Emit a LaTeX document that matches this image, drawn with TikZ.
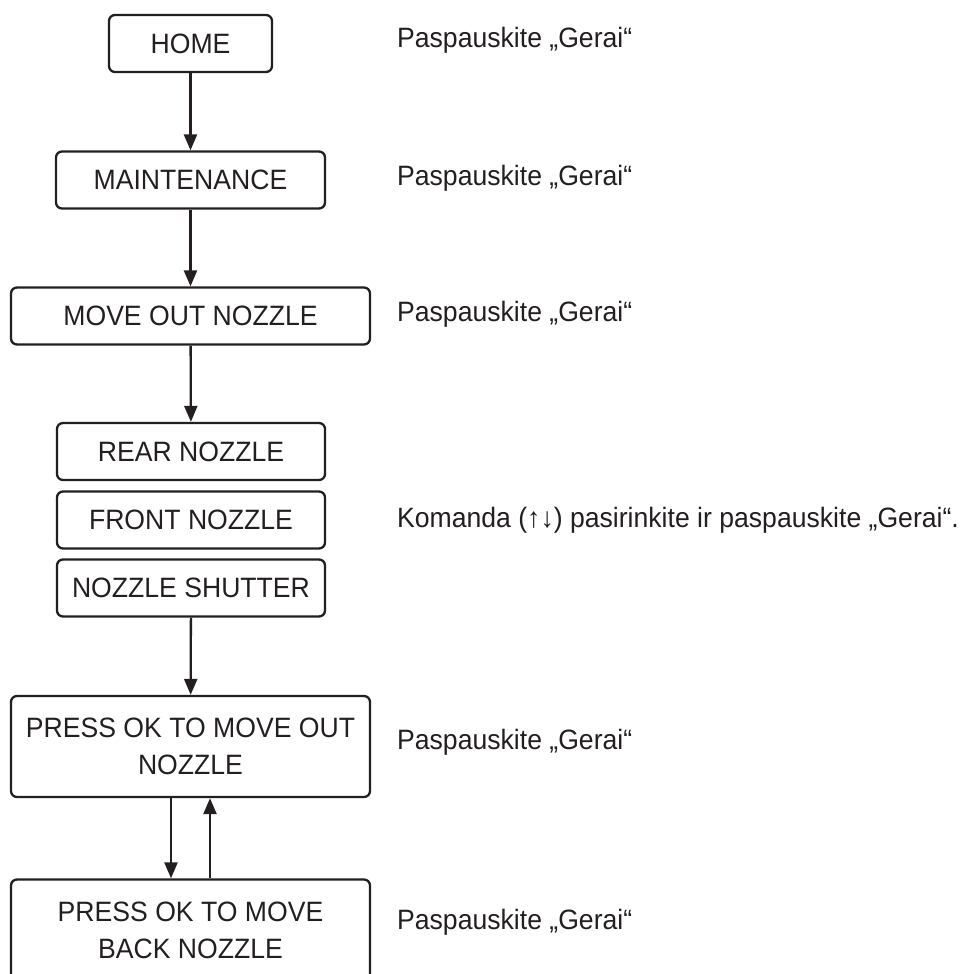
\documentclass[tikz,border=0pt]{standalone}
\usepackage{fontspec}
\setmainfont{Liberation Sans}[FakeStretch=0.95]
\usetikzlibrary{arrows.meta}
\definecolor{ink}{HTML}{231F20}
\begin{document}
\begin{tikzpicture}
  [x=1pt,y=1pt,ink,line width=2.3pt,
   every node/.style={font=\fontsize{28}{37}\selectfont,text=ink},
   menubox/.style={draw,rounded corners=6pt,align=center,inner sep=0pt,minimum height=57pt},
   hint/.style={anchor=west,inner sep=0pt},
   flow/.style={-{Triangle[length=16pt,width=13pt]}}]
  \useasboundingbox (0,0) rectangle (960,-974);
  \clip (0,0) rectangle (960,-974);

  \node[menubox,minimum width=163pt] (home)    at (190.5,-43.5) {HOME};
  \node[menubox,minimum width=269pt] (maint)   at (190.5,-180)  {MAINTENANCE};
  \node[menubox,minimum width=359pt] (moveout) at (190.5,-316)  {MOVE OUT NOZZLE};
  \node[menubox,minimum width=268pt] (rear)    at (191,-451.5)  {REAR NOZZLE};
  \node[menubox,minimum width=268pt] (front)   at (191,-520)    {FRONT NOZZLE};
  \node[menubox,minimum width=268pt] (shutter) at (191,-588)    {NOZZLE SHUTTER};
  \node[menubox,minimum width=359pt,minimum height=101pt] (pressout)  at (190.5,-746.5) {PRESS OK TO MOVE OUT\\NOZZLE};
  \node[menubox,minimum width=359pt,minimum height=101pt] (pressback) at (190.5,-930)   {PRESS OK TO MOVE\\BACK NOZZLE};

  \node[hint] (h1) at (396,-40)  {Paspauskite „Gerai“};
  \node[hint] (h2) at (396,-178) {Paspauskite „Gerai“};
  \node[hint] (h3) at (396,-314) {Paspauskite „Gerai“};
  \node[hint] (h4) at (396,-520) {Komanda (↑↓) pasirinkite ir paspauskite „Gerai“.};
  \node[hint] (h5) at (396,-742) {Paspauskite „Gerai“};
  \node[hint] (h6) at (396,-922) {Paspauskite „Gerai“};

  \foreach \from/\to in {home/maint,maint/moveout,moveout/rear,shutter/pressout}
    \draw[flow] (\from) -- (\to);

  \draw[flow] (pressout.south -| 171,0) -- (pressback.north -| 171,0);
  \draw[flow] (pressback.north -| 210,0) -- (pressout.south -| 210,0);

\end{tikzpicture}
\end{document}
